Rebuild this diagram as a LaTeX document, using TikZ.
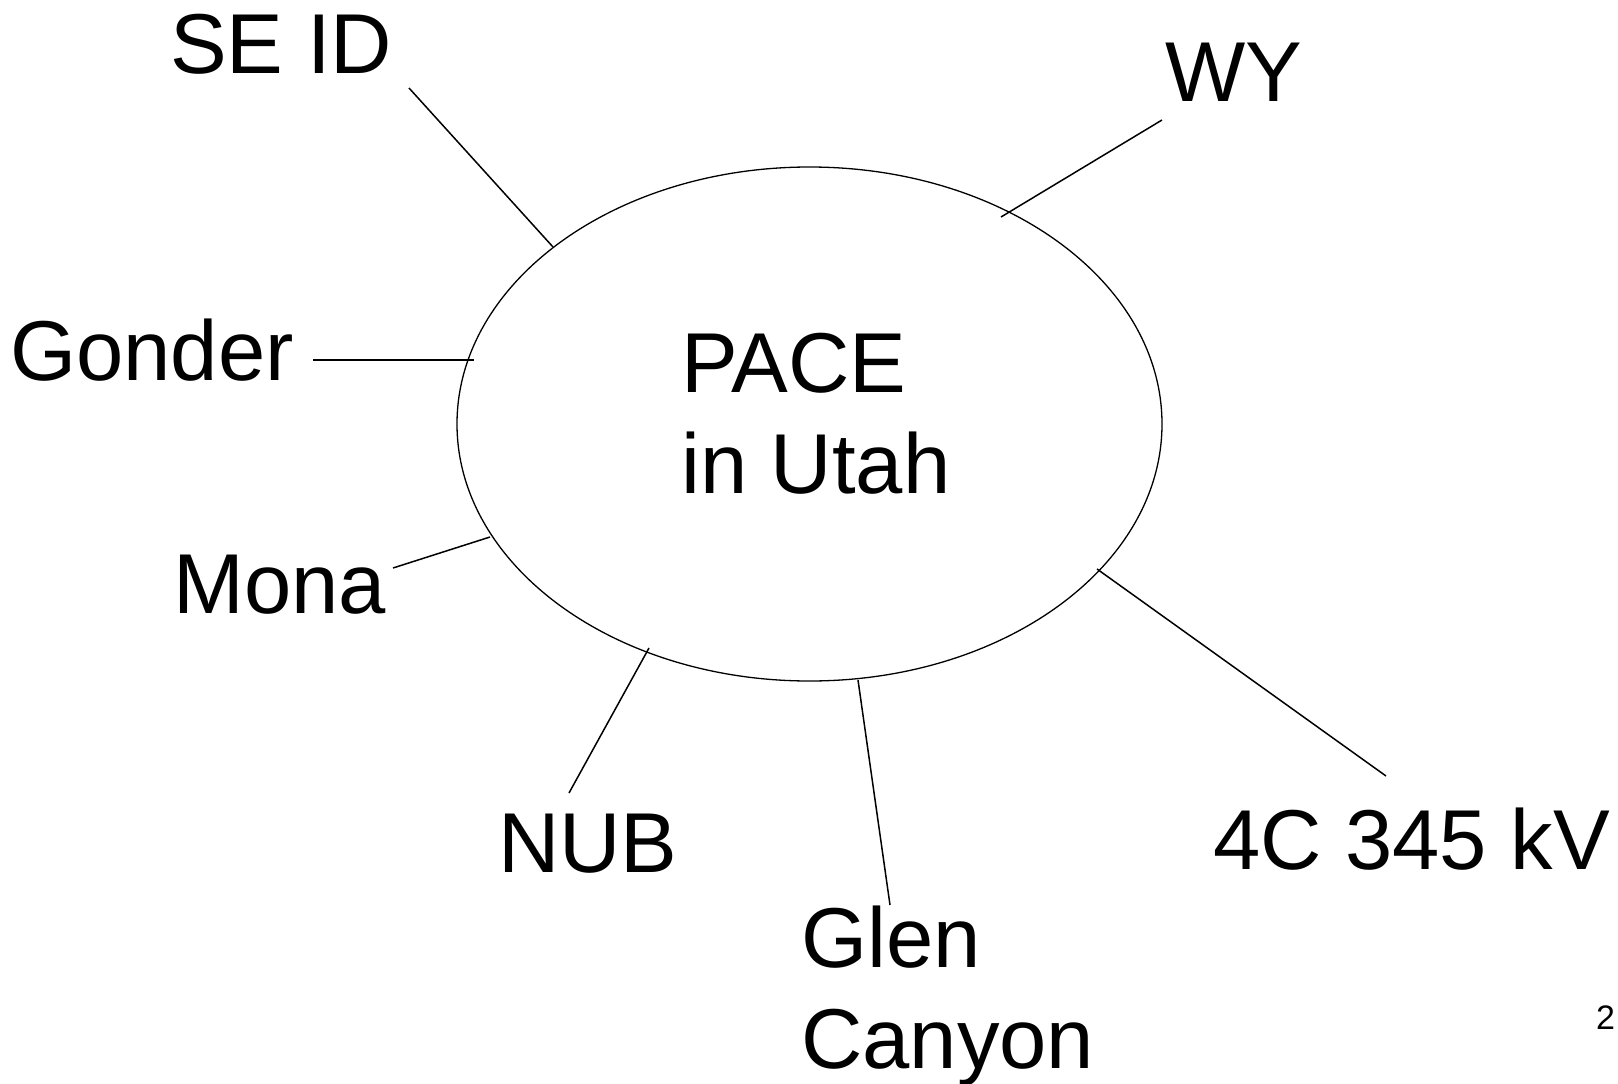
\documentclass[tikz,border=0pt]{standalone}
\usepackage{fontspec}
\setmainfont{Liberation Sans}
\usetikzlibrary{shapes.geometric}
\tikzset{
  lbl/.style={anchor=base west, inner sep=0pt, font=\fontsize{85}{101}\selectfont, align=left},
  conn/.style={line width=1.5pt, draw=black},
}
\begin{document}
\begin{tikzpicture}[x=1pt,y=-1pt]
\useasboundingbox (0,0) rectangle (1618,1084);
\node[draw, ellipse, minimum width=705pt, minimum height=514pt, inner sep=0pt, line width=1.3pt] (pace) at (809.5,424) {};
\node[lbl] (pacetxt) at (681,493) {PACE\\in Utah};
\node[lbl] (seid) at (170,73) {SE ID};
\node[lbl] (wy) at (1165,101) {WY};
\node[lbl] (gonder) at (10,380) {Gonder};
\node[lbl] (mona) at (173,613) {Mona};
\node[lbl] (nub) at (498,872) {NUB};
\node[lbl] (glen) at (801,1068) {Glen\\Canyon};
\node[lbl] (fourc) at (1213,869) {4C 345 kV};
\node[anchor=base west, inner sep=0pt, font=\fontsize{34}{40}\selectfont] (pg) at (1596,1029) {2};
% connector ends
\coordinate (seidA) at (409,88);   \coordinate (seidB) at (553,247);
\coordinate (wyA) at (1162,120);   \coordinate (wyB) at (1001,217);
\coordinate (gonA) at (313,360);   \coordinate (gonB) at (474,360);
\coordinate (monA) at (393,568);   \coordinate (monB) at (490,537);
\coordinate (nubA) at (569,793);   \coordinate (nubB) at (649,648);
\coordinate (glnA) at (890,905);   \coordinate (glnB) at (858,680);
\coordinate (fcA) at (1386,776);   \coordinate (fcB) at (1097,569);
\draw[conn] (seidA) -- (seidB);
\draw[conn] (wyA) -- (wyB);
\draw[conn] (gonA) -- (gonB);
\draw[conn] (monA) -- (monB);
\draw[conn] (nubA) -- (nubB);
\draw[conn] (glnA) -- (glnB);
\draw[conn] (fcA) -- (fcB);
\end{tikzpicture}
\end{document}
